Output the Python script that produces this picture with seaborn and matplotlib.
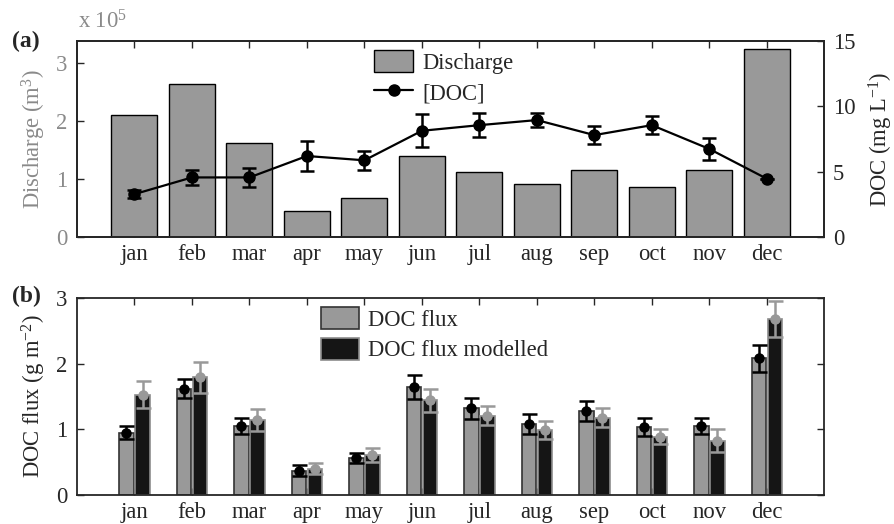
import numpy as np
import pandas as pd
import matplotlib
matplotlib.use('Agg')
import matplotlib.pyplot as plt
import seaborn as sns
from matplotlib.patches import Patch
from matplotlib.lines import Line2D

# ---------------- data ----------------
months = ['jan', 'feb', 'mar', 'apr', 'may', 'jun',
          'jul', 'aug', 'sep', 'oct', 'nov', 'dec']
# discharge in units of 1e5 m3
discharge = [2.10, 2.64, 1.62, 0.45, 0.675, 1.40, 1.125, 0.92, 1.155, 0.865, 1.155, 3.24]
doc_conc = [3.28, 4.56, 4.56, 6.20, 5.87, 8.13, 8.56, 8.95, 7.80, 8.56, 6.74, 4.46]
doc_conc_err = [0.33, 0.60, 0.75, 1.13, 0.75, 1.26, 0.90, 0.54, 0.67, 0.70, 0.86, 0.0]

flux_obs = [0.95, 1.62, 1.05, 0.37, 0.56, 1.64, 1.32, 1.08, 1.28, 1.04, 1.05, 2.08]
flux_obs_err = [0.10, 0.14, 0.12, 0.08, 0.08, 0.18, 0.16, 0.15, 0.15, 0.14, 0.12, 0.20]
flux_mod = [1.53, 1.79, 1.14, 0.40, 0.61, 1.44, 1.21, 0.99, 1.18, 0.89, 0.83, 2.68]
flux_mod_err = [0.20, 0.24, 0.17, 0.08, 0.10, 0.17, 0.14, 0.14, 0.14, 0.12, 0.18, 0.27]

series_names = ['DOC flux', 'DOC flux modelled']

# ---------------- style ----------------
sns.set_theme(style='ticks')
plt.rcParams['font.family'] = ['Liberation Serif', 'DejaVu Serif']
plt.rcParams['mathtext.fontset'] = 'custom'
plt.rcParams['mathtext.rm'] = 'Liberation Serif'
plt.rcParams['mathtext.it'] = 'Liberation Serif:italic'
plt.rcParams['axes.linewidth'] = 1.3
plt.rcParams['xtick.direction'] = 'in'
plt.rcParams['ytick.direction'] = 'in'

FS = 16.3
GREY_TXT = '#8a8a8a'
BAR_GREY = '#999999'
BAR_BLACK = '#151515'

fig = plt.figure(figsize=(8.95, 5.24), dpi=100)

# ---------------- panel (a) ----------------
ax1 = fig.add_axes([0.086, 0.5477, 0.835, 0.374])
df_a = pd.DataFrame({'month': months, 'discharge': discharge})
sns.barplot(data=df_a, x='month', y='discharge', color=BAR_GREY, saturation=1,
            width=0.8, edgecolor='black', linewidth=1.0, ax=ax1)
ax1.set_xlim(-1, 12)
ax1.set_ylim(0, 3.38)
ax1.set_yticks([0, 1, 2, 3])
ax1.set_xlabel('')
ax1.set_ylabel('Discharge (m$^{3}$)', fontsize=FS, color=GREY_TXT, labelpad=6)
ax1.tick_params(axis='y', labelsize=FS, labelcolor=GREY_TXT, length=5, width=1,
                right=True, left=True, pad=7)
ax1.tick_params(axis='x', labelsize=FS, length=5, width=1, top=True, pad=5)

ax2 = ax1.twinx()
ax2.errorbar(np.arange(len(months)), doc_conc, yerr=doc_conc_err, color='black',
             marker='o', ms=8, lw=1.6, elinewidth=1.8, capsize=4.7, capthick=1.8)
ax2.set_ylim(0, 15)
ax2.set_yticks([0, 5, 10, 15])
ax2.set_ylabel('DOC (mg L$^{-1}$)', fontsize=FS, labelpad=8)
ax2.tick_params(axis='y', labelsize=FS, length=5, width=1, pad=6)

fig.text(0.087, 0.958, 'x 10$^{5}$', fontsize=FS, color=GREY_TXT, va='center', ha='left')
fig.text(0.013, 0.921, '(a)', fontsize=17, fontweight='bold', va='center', ha='left')

leg_a = [Patch(facecolor=BAR_GREY, edgecolor='black', linewidth=1.0),
         Line2D([0], [0], color='black', marker='o', ms=8, lw=1.6)]
ax2.legend(leg_a, ['Discharge', '[DOC]'], loc='upper left', bbox_to_anchor=(0.392, 0.975),
           frameon=False, fontsize=FS, handlelength=1.7, handleheight=1.1,
           handletextpad=0.4, labelspacing=0.3, borderaxespad=0, borderpad=0.2)

# ---------------- panel (b) ----------------
ax3 = fig.add_axes([0.086, 0.0553, 0.835, 0.376])
df_b = pd.DataFrame({
    'month': months * 2,
    'flux': flux_obs + flux_mod,
    'series': [series_names[0]] * len(months) + [series_names[1]] * len(months),
})
sns.barplot(data=df_b, x='month', y='flux', hue='series', hue_order=series_names,
            palette={series_names[0]: BAR_GREY, series_names[1]: BAR_BLACK},
            saturation=1, width=0.56, gap=0.1, linewidth=1.2, legend=False, ax=ax3)

cont_obs, cont_mod = ax3.containers[0], ax3.containers[1]
for p in cont_obs:
    p.set_edgecolor('#333333')
for p in cont_mod:
    p.set_edgecolor('#8c8c8c')

x_obs = [p.get_x() + p.get_width() / 2 for p in cont_obs]
x_mod = [p.get_x() + p.get_width() / 2 for p in cont_mod]
ax3.errorbar(x_obs, flux_obs, yerr=flux_obs_err, fmt='o', color='black', ms=6.5,
             elinewidth=1.8, capsize=5.4, capthick=1.8, zorder=5)
ax3.errorbar(x_mod, flux_mod, yerr=flux_mod_err, fmt='o', color='#999999', ms=6.5,
             elinewidth=1.8, capsize=5.4, capthick=1.8, zorder=5)

ax3.set_xlim(-1, 12)
ax3.set_ylim(0, 3)
ax3.set_yticks([0, 1, 2, 3])
ax3.set_xlabel('')
ax3.set_ylabel('DOC flux (g m$^{-2}$)', fontsize=FS, labelpad=6)
ax3.tick_params(axis='y', labelsize=FS, length=5, width=1, right=True, pad=7)
ax3.tick_params(axis='x', labelsize=FS, length=5, width=1, top=True, pad=5)

fig.text(0.013, 0.435, '(b)', fontsize=17, fontweight='bold', va='center', ha='left')

leg_b = [Patch(facecolor=BAR_GREY, edgecolor='#333333', linewidth=1.2),
         Patch(facecolor=BAR_BLACK, edgecolor='#8c8c8c', linewidth=1.2)]
ax3.legend(leg_b, series_names, loc='upper left', bbox_to_anchor=(0.32, 0.975),
           frameon=False, fontsize=FS, handlelength=1.7, handleheight=1.1,
           handletextpad=0.4, labelspacing=0.3, borderaxespad=0, borderpad=0.2)

fig.savefig('out.png', dpi=100)
